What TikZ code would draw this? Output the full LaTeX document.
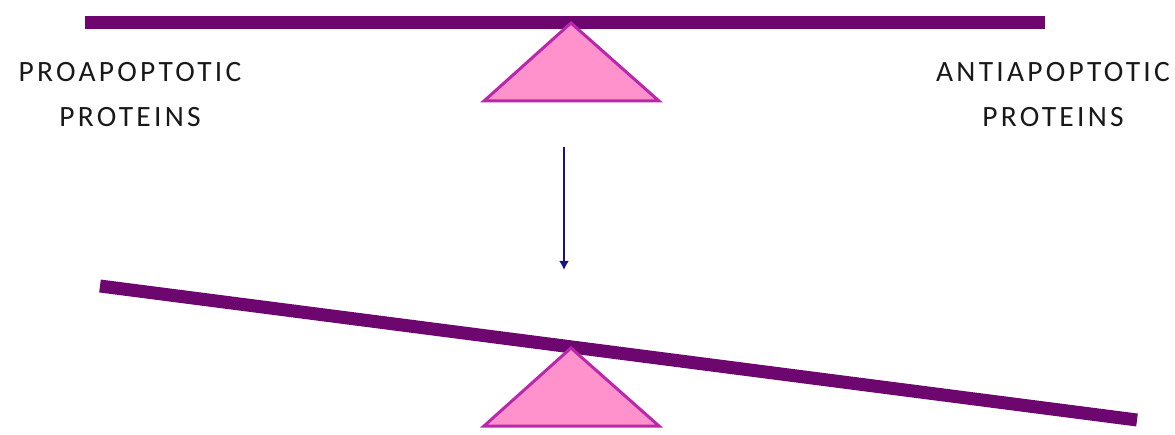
\documentclass[tikz,border=0pt]{standalone}
\usepackage{fontspec}
\setmainfont{Carlito}
\usetikzlibrary{positioning,arrows.meta}

\definecolor{beampurple}{RGB}{110,6,112}
\definecolor{pivotpink}{RGB}{255,145,205}
\definecolor{pivotedge}{RGB}{185,40,170}
\definecolor{arrownavy}{RGB}{25,20,125}

\begin{document}
\begin{tikzpicture}[x=1pt,y=-1pt,
    beam/.style={draw=beampurple,line width=13pt},
    pivot/.style={draw=pivotedge,fill=pivotpink,line width=3pt,line join=miter},
    sidelabel/.style={inner sep=0pt,align=center,text=black!90,
      font=\fontsize{29.5}{45}\selectfont\addfontfeature{LetterSpace=11}}]
\useasboundingbox (0,0) rectangle (1175,435);

% balanced scale
\draw[beam] (85,23) -- (1045,23);
\draw[pivot] (571,23) -- (484,101) -- (659,101) -- cycle;

\node[sidelabel] (pro) at (130,95) {PROAPOPTOTIC\\PROTEINS};
\node[sidelabel] (anti) at (1053,95) {ANTIAPOPTOTIC\\PROTEINS};

% arrow between the two states
\coordinate (arrtop) at (564,147);
\coordinate (arrbot) at (564,270);
\draw[arrownavy,line width=2.8pt,-{Latex[length=9pt,width=10pt]}] (arrtop) -- (arrbot);

% tipped scale
\draw[beam] (100,286) -- (1137,420);
\draw[pivot] (571,348) -- (484,426) -- (659,426) -- cycle;
\end{tikzpicture}
\end{document}
